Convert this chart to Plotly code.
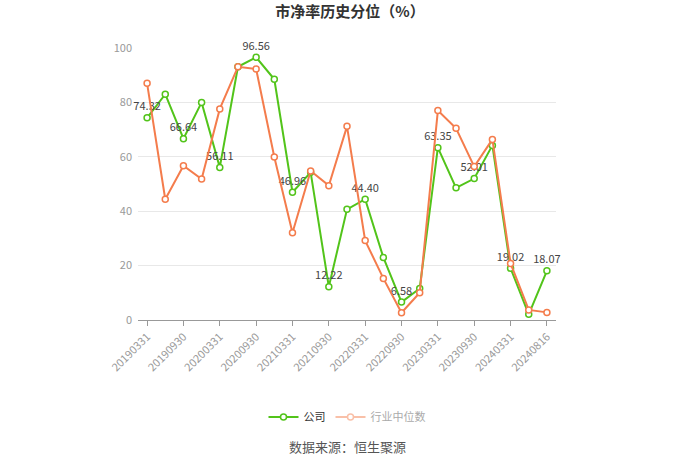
import plotly.graph_objects as go

dates = ["20190331","20190630","20190930","20191231","20200331","20200630","20200930","20201231",
         "20210331","20210630","20210930","20211231","20220331","20220630","20220930","20221231",
         "20230331","20230630","20230930","20231231","20240331","20240630","20240816"]
company = [74.32, 83.0, 66.64, 80.0, 56.11, 93.1, 96.56, 88.5, 46.96, 54.3, 12.22, 40.7, 44.40,
           23.0, 6.58, 11.6, 63.35, 48.6, 52.01, 64.2, 19.02, 2.1, 18.07]
industry = [87.0, 44.4, 56.7, 51.8, 77.6, 93.1, 92.3, 59.9, 32.1, 54.8, 49.4, 71.2, 29.2,
            15.3, 2.7, 10.0, 77.0, 70.5, 56.4, 66.4, 20.8, 3.7, 2.8]
tick_labels = dates[::2]
label_text = [f"{v:.2f}" if i % 2 == 0 else "" for i, v in enumerate(company)]

green = "#52c41a"
orange = "#f47c4c"
orange_light = "#f9c0a8"

fig = go.Figure()
fig.add_trace(go.Scatter(
    x=dates, y=company, name="公司", mode="lines+markers+text",
    line=dict(color=green, width=2),
    marker=dict(symbol="circle", size=6, color="white", line=dict(color=green, width=1.5)),
    text=label_text, textposition="top center", cliponaxis=False,
    textfont=dict(color="#444444", size=11),
))
fig.add_trace(go.Scatter(
    x=dates, y=industry, name="行业中位数", mode="lines+markers", showlegend=False,
    line=dict(color=orange, width=2),
    marker=dict(symbol="circle", size=6, color="white", line=dict(color=orange, width=1.5)),
    cliponaxis=False,
))
fig.add_trace(go.Scatter(
    x=[None], y=[None], name="<span style='color:#aaaaaa'>行业中位数</span>", mode="lines+markers",
    line=dict(color=orange_light, width=2),
    marker=dict(symbol="circle", size=6, color="white", line=dict(color=orange_light, width=1.5)),
))

fig.update_layout(
    width=700, height=473,
    margin=dict(l=138, r=144, t=48, b=153),
    paper_bgcolor="white", plot_bgcolor="white",
    font=dict(family="Noto Sans CJK SC, Noto Sans, sans-serif", color="#999999", size=11),
    title=dict(text="<b>市净率历史分位（%）</b>", x=0.5, xanchor="center", y=0.975, yanchor="middle",
               font=dict(size=15, color="#333333")),
    showlegend=True,
    legend=dict(orientation="h", x=0.5, xanchor="center", y=-0.357, yanchor="middle",
                font=dict(size=11, color="#333333"), itemwidth=30),
    annotations=[dict(text="数据来源：恒生聚源", x=0.5, y=-0.507, xref="paper", yref="paper",
                      showarrow=False, font=dict(size=13, color="#555555"))],
)
fig.update_xaxes(
    type="category", range=[-0.5, len(dates) - 0.5],
    tickmode="array", tickvals=tick_labels, ticktext=tick_labels,
    tickangle=-45, showgrid=False, showline=True, linecolor="#999999", linewidth=1,
    ticks="outside", ticklen=5, tickcolor="#999999",
    tickfont=dict(size=11, color="#999999"),
)
fig.update_yaxes(
    range=[0, 100], dtick=20, showgrid=True, gridcolor="#e8e8e8", gridwidth=1,
    zeroline=False, showline=False, tickfont=dict(size=11, color="#999999"), ticks="",
    ticklabelstandoff=5,
)
fig.write_html("out.html")
